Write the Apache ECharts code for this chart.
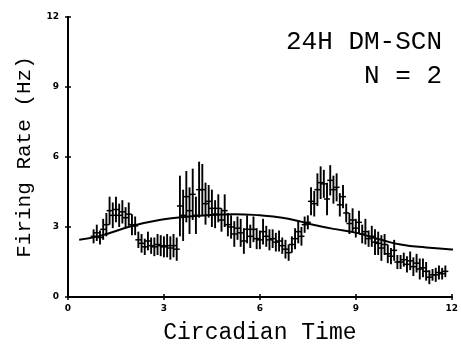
<!DOCTYPE html>
<html><head><meta charset="utf-8">
<script src="https://cdn.jsdelivr.net/npm/echarts@6/dist/echarts.min.js"></script>
<style>html,body{margin:0;padding:0;background:#fff}#c{width:461px;height:349px}</style>
</head><body><div id="c"></div>
<script>
const times = [0.8,0.9,1.0,1.1,1.2,1.3,1.4,1.5,1.6,1.7,1.8,1.9,2.0,2.1,2.2,2.3,2.4,2.5,2.6,2.7,2.8,2.9,3.0,3.1,3.2,3.3,3.4,3.5,3.6,3.7,3.8,3.9,4.0,4.1,4.2,4.3,4.4,4.5,4.6,4.7,4.8,4.9,5.0,5.1,5.2,5.3,5.4,5.5,5.6,5.7,5.8,5.9,6.0,6.1,6.2,6.3,6.4,6.5,6.6,6.7,6.8,6.9,7.0,7.1,7.2,7.3,7.4,7.5,7.6,7.7,7.8,7.9,8.0,8.1,8.2,8.3,8.4,8.5,8.6,8.7,8.8,8.9,9.0,9.1,9.2,9.3,9.4,9.5,9.6,9.7,9.8,9.9,10.0,10.1,10.2,10.3,10.4,10.5,10.6,10.7,10.8,10.9,11.0,11.1,11.2,11.3,11.4,11.5,11.6,11.7,11.8];
const means = [2.6,2.75,2.55,2.9,3.1,3.7,3.5,3.75,3.5,3.65,3.4,3.55,3.1,3.05,2.45,2.3,2.15,2.4,2.2,2.15,2.25,2.2,2.15,2.2,2.1,2.2,2.05,3.9,3.5,4.3,3.7,4.4,3.5,4.6,4.6,4.0,4.1,3.8,3.55,3.8,3.3,3.7,3.1,3.0,2.7,2.95,2.75,2.4,2.9,2.6,2.9,2.5,2.45,2.8,2.6,2.45,2.5,2.35,2.4,2.2,2.05,1.9,2.25,2.5,2.8,2.6,3.1,3.2,4.1,4.0,4.6,4.9,4.85,4.2,5.0,4.6,4.7,3.95,4.3,3.6,3.15,3.3,2.95,3.2,2.7,2.8,2.5,2.6,2.35,2.3,2.1,2.25,1.85,1.75,2.0,1.5,1.5,1.6,1.4,1.55,1.3,1.45,1.2,1.25,1.1,0.85,0.95,0.95,1.05,1.0,1.1];
const errs = [0.3,0.35,0.3,0.45,0.5,0.6,0.55,0.55,0.5,0.5,0.45,0.5,0.45,0.4,0.35,0.4,0.35,0.4,0.35,0.4,0.45,0.45,0.45,0.5,0.5,0.5,0.5,1.3,1.1,1.1,1.0,1.1,0.8,1.2,1.1,0.9,0.7,0.8,0.6,0.6,0.5,0.7,0.5,0.5,0.55,0.5,0.6,0.55,0.6,0.5,0.55,0.45,0.4,0.55,0.45,0.45,0.4,0.4,0.45,0.35,0.4,0.35,0.35,0.45,0.5,0.4,0.35,0.3,0.6,0.55,0.7,0.7,0.6,0.7,0.65,0.6,0.6,0.5,0.5,0.4,0.45,0.5,0.4,0.5,0.4,0.55,0.35,0.45,0.55,0.5,0.55,0.45,0.4,0.35,0.45,0.3,0.3,0.3,0.35,0.4,0.4,0.4,0.45,0.4,0.4,0.3,0.25,0.3,0.3,0.25,0.25];
const fitX = [0.35,1.0,2.0,3.0,3.7,4.3,5.2,6.0,6.7,7.25,7.55,8.3,9.0,9.85,10.4,11.2,12.0,12.2];
const fitY = [2.45,2.62,3.04,3.33,3.44,3.5,3.55,3.5,3.4,3.24,3.13,2.92,2.76,2.43,2.25,2.12,2.04,2.0];
const xTicks = ['0','3','6','9','12'];
const yTicks = ['0','3','6','9','12'];
const xTitle = 'Circadian Time';
const yTitle = 'Firing Rate (Hz)';
const label1 = '24H DM-SCN';
const label2 = 'N = 2';

const errData = times.map((t,i)=>[t, means[i]-errs[i], means[i]+errs[i], means[i]]);
const fitData = fitX.map((x,i)=>[x, fitY[i]]);
const chart = echarts.init(document.getElementById('c'), null, {renderer:'canvas'});
const mono = '"Liberation Mono", "DejaVu Sans Mono", monospace';
const axisCommon = {
  min:0, max:12, interval:3,
  axisLine:{show:true, lineStyle:{color:'#000', width:2}},
  axisTick:{show:true, inside:true, length:3, lineStyle:{color:'#000', width:1.5}},
  splitLine:{show:false}
};
chart.setOption({
  animation:false,
  backgroundColor:'#fff',
  grid:{left:68, right:9, top:17, bottom:46, show:false},
  xAxis:[Object.assign({type:'value', position:'bottom',
    name:xTitle, nameLocation:'middle', nameGap:24,
    nameTextStyle:{fontFamily:mono, fontSize:23, color:'#000'},
    axisLabel:{fontFamily:'DejaVu Sans', fontWeight:'bold', fontSize:9, color:'#000', margin:7,
      formatter:v=>xTicks[Math.round(v/3)]}}, axisCommon),
    Object.assign({type:'value', position:'top', axisLabel:{show:false}}, axisCommon)],
  yAxis:[Object.assign({type:'value', position:'left',
    name:yTitle, nameLocation:'middle', nameGap:33,
    nameTextStyle:{fontFamily:mono, fontSize:21, color:'#000'},
    axisLabel:{fontFamily:'DejaVu Sans', fontWeight:'bold', fontSize:9, color:'#000', margin:9,
      formatter:v=>yTicks[Math.round(v/3)]}}, axisCommon),
    Object.assign({type:'value', position:'right', axisLabel:{show:false}}, axisCommon)],
  graphic:[
    {type:'text', right:19, top:29, style:{text:label1, font:'26px '+mono, fill:'#000'}},
    {type:'text', right:19, top:63, style:{text:label2, font:'26px '+mono, fill:'#000'}}
  ],
  series:[
    {type:'custom', xAxisIndex:0, yAxisIndex:0, data:errData,
      renderItem:function(params, api){
        const x = api.value(0);
        const lo = api.coord([x, api.value(1)]);
        const hi = api.coord([x, api.value(2)]);
        const m = api.coord([x, api.value(3)]);
        return {type:'group', children:[
          {type:'line', shape:{x1:lo[0], y1:lo[1], x2:hi[0], y2:hi[1]}, style:{stroke:'#000', lineWidth:1.9}},
          {type:'line', shape:{x1:m[0]-3, y1:m[1], x2:m[0]+3, y2:m[1]}, style:{stroke:'#000', lineWidth:1.5}}
        ]};
      }},
    {type:'line', xAxisIndex:0, yAxisIndex:0, data:fitData, smooth:0.5, showSymbol:false, clip:false,
      lineStyle:{color:'#000', width:2}}
  ]
});
</script></body></html>
